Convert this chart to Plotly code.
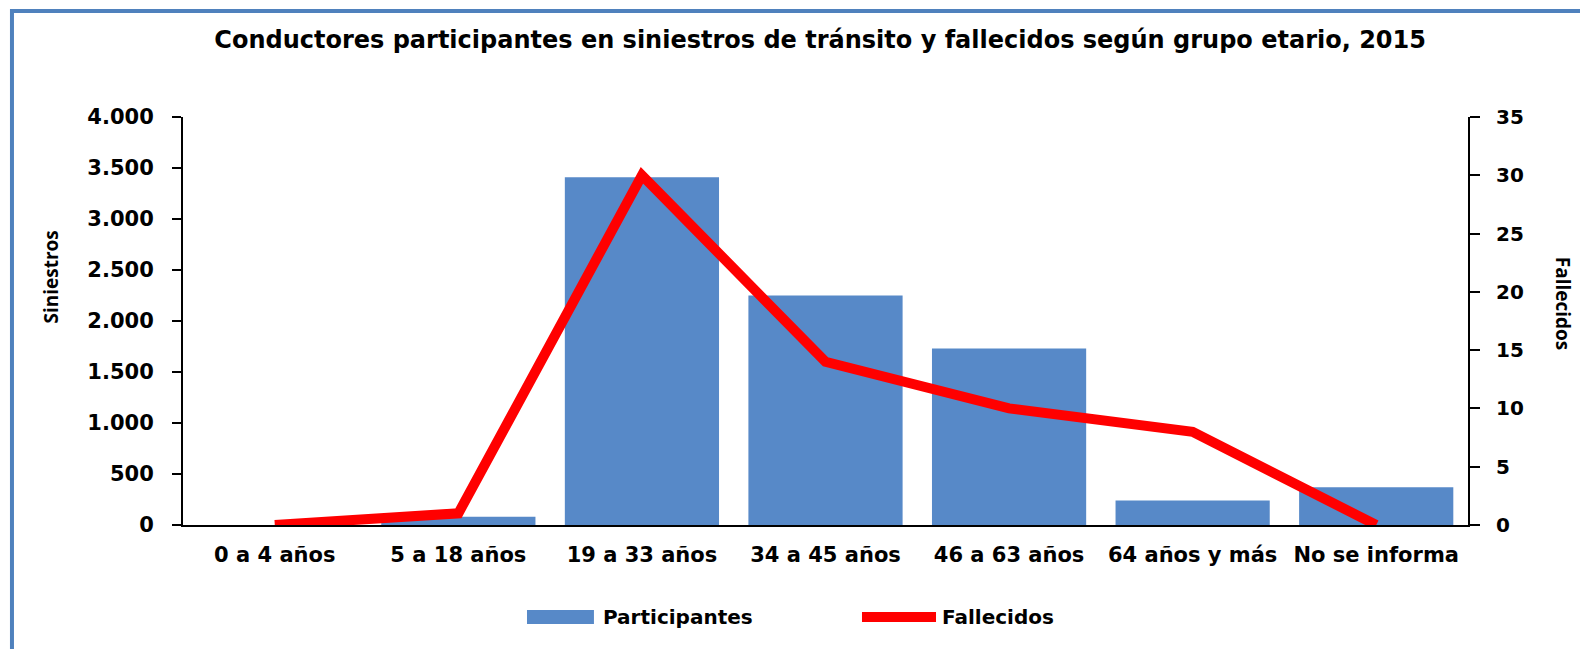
import plotly.graph_objects as go

categories = ["0 a 4 años", "5 a 18 años", "19 a 33 años", "34 a 45 años",
              "46 a 63 años", "64 años y más", "No se informa"]
participantes = [0, 80, 3410, 2250, 1730, 240, 370]
fallecidos = [0, 1, 30, 14, 10, 8, 0]

BLUE = "#5789C8"
RED = "#FF0000"
FONT = "DejaVu Sans"

fig = go.Figure()
fig.add_trace(
    go.Bar(
        x=categories,
        y=participantes,
        name="Participantes",
        marker=dict(color=BLUE, line=dict(width=0)),
        showlegend=False,
    )
)
fig.add_trace(
    go.Scatter(
        x=categories,
        y=fallecidos,
        name="Fallecidos",
        mode="lines",
        yaxis="y2",
        line=dict(color=RED, width=10),
        showlegend=False,
    )
)

# legend drawn by hand so the keys are wide like the original
legend_y = -0.2255
fig.add_shape(type="rect", xref="paper", yref="paper",
              x0=0.2677, x1=0.3198, y0=legend_y - 0.017, y1=legend_y + 0.017,
              fillcolor=BLUE, line=dict(width=0))
fig.add_shape(type="line", xref="paper", yref="paper",
              x0=0.5284, x1=0.586, y0=legend_y, y1=legend_y,
              line=dict(color=RED, width=10))
# frame
fig.add_shape(type="rect", xref="paper", yref="paper",
              x0=-0.1331, x1=1.3, y0=-0.6, y1=1.2598,
              line=dict(color="#4F81BD", width=4), fillcolor="rgba(0,0,0,0)")

annotations = [
    dict(text="Participantes", x=0.3253, y=legend_y, xanchor="left", yanchor="middle"),
    dict(text="Fallecidos", x=0.589, y=legend_y, xanchor="left", yanchor="middle"),
]
for a in annotations:
    a.update(xref="paper", yref="paper", showarrow=False,
             font=dict(family=FONT, size=20, color="black", weight="bold"))
annotations.append(dict(text="Siniestros", x=-0.103, y=0.608, xref="paper", yref="paper",
                        textangle=-90, showarrow=False, xanchor="center", yanchor="middle",
                        font=dict(family="Open Sans", size=19, color="black", weight="bold")))
annotations.append(dict(text="Fallecidos", x=1.074, y=0.542, xref="paper", yref="paper",
                        textangle=90, showarrow=False, xanchor="center", yanchor="middle",
                        font=dict(family="Open Sans", size=19, color="black", weight="bold")))

tick_font = dict(family=FONT, size=21, color="black", weight="bold")

# page body adds an 8px offset, so the figure is a bit smaller than the window
fig.update_layout(
    width=1580,
    height=641,
    margin=dict(l=175, r=120, t=109, b=124, autoexpand=False),
    paper_bgcolor="white",
    plot_bgcolor="white",
    separators=",.",
    bargap=0.16,
    title=dict(
        text="Conductores participantes en siniestros de tránsito y fallecidos según grupo etario, 2015",
        x=0.514, xanchor="center", y=0.95, yanchor="middle",
        font=dict(family=FONT, size=24, color="black", weight="bold"),
    ),
    xaxis=dict(
        showline=True, linecolor="black", linewidth=2,
        ticks="", showgrid=False, tickangle=0, automargin=False,
        ticklabelstandoff=10,
        tickfont=dict(family=FONT, size=21, color="black", weight="bold"),
    ),
    yaxis=dict(
        range=[0, 4000], dtick=500, tickformat=",d",
        showline=True, linecolor="black", linewidth=2,
        ticks="outside", ticklen=9, tickwidth=2, tickcolor="black",
        ticklabelstandoff=14, automargin=False,
        showgrid=False, zeroline=False, tickfont=tick_font,
    ),
    yaxis2=dict(
        range=[0, 35], dtick=5, overlaying="y", side="right",
        showline=True, linecolor="black", linewidth=2,
        ticks="outside", ticklen=10, tickwidth=2, tickcolor="black",
        ticklabelstandoff=12, automargin=False,
        showgrid=False, zeroline=False, tickfont=dict(family=FONT, size=20, color="black", weight="bold"),
    ),
    annotations=annotations,
)

fig.write_html("out.html")
